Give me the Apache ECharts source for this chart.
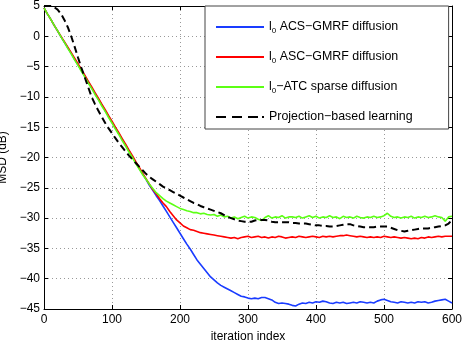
<!DOCTYPE html>
<html>
<head>
<meta charset="utf-8">
<script src="https://cdn.jsdelivr.net/npm/echarts@6/dist/echarts.min.js"></script>
<style>
    html, body { margin: 0; padding: 0; background: #fff; }
    #chart { width: 463px; height: 342px; }
</style>
</head>
<body>
<div id="chart"></div>
<script>
//--------------------------------
// Data (every 5 iterations)
//--------------------------------
const iters = [];
for (let i = 0; i <= 600; i += 5) iters.push(i);

const xTicks = [0, 100, 200, 300, 400, 500, 600];
const yTicks = [-45, -40, -35, -30, -25, -20, -15, -10, -5, 0, 5];

const seriesNames = [
    'l0 ACS−GMRF diffusion',
    'l0 ASC−GMRF diffusion',
    'l0−ATC sparse diffusion',
    'Projection−based learning'
];

const acs = [
    4.7, 3.7, 2.8, 1.8, 0.9, -0.1, -1.0, -1.9, -2.8, -3.8,
    -4.7, -5.6, -6.6, -7.5, -8.5, -9.4, -10.4, -11.3, -12.3, -13.2,
    -14.2, -15.1, -16.1, -17.0, -18.0, -18.9, -19.9, -20.8, -21.8, -22.7,
    -23.6, -24.6, -25.4, -26.3, -27.1, -28.0, -28.9, -29.8, -30.7, -31.6,
    -32.5, -33.4, -34.3, -35.1, -36.0, -36.9, -37.6, -38.3, -39.0, -39.7,
    -40.2, -40.7, -41.1, -41.4, -41.7, -42.0, -42.3, -42.6, -42.9, -43.0,
    -43.2, -43.3, -43.2, -43.3, -43.1, -43.1, -43.3, -43.5, -43.9, -44.1,
    -44.0, -44.1, -44.2, -44.4, -44.5, -44.2, -44.0, -44.1, -43.9, -44.0,
    -43.8, -43.9, -43.7, -43.8, -44.0, -44.1, -43.9, -44.0, -43.9, -44.1,
    -44.0, -43.9, -44.0, -43.8, -43.9, -44.0, -43.9, -44.0, -43.7, -43.5,
    -43.4, -43.6, -43.8, -43.9, -44.0, -43.8, -43.9, -44.0, -43.9, -44.0,
    -43.8, -43.9, -43.8, -44.0, -43.9, -43.7, -43.6, -43.5, -43.4, -43.7,
    -44.0
];

const asc = [
    4.7, 3.7, 2.8, 1.8, 0.9, 0.0, -0.9, -1.8, -2.7, -3.6,
    -4.5, -5.5, -6.4, -7.4, -8.3, -9.3, -10.2, -11.2, -12.1, -13.1,
    -14.0, -15.0, -15.9, -16.9, -17.8, -18.8, -19.7, -20.7, -21.6, -22.6,
    -23.5, -24.4, -25.3, -26.0, -26.8, -27.5, -28.1, -28.9, -29.6, -30.3,
    -30.8, -31.3, -31.6, -31.9, -32.0, -32.2, -32.4, -32.5, -32.6, -32.7,
    -32.8, -32.9, -33.0, -33.1, -33.2, -33.3, -33.2, -33.4, -33.2, -33.1,
    -33.0, -33.2, -33.1, -33.0, -33.2, -33.1, -33.3, -33.1, -33.2, -33.0,
    -33.1, -33.3, -33.2, -33.1, -33.2, -33.0, -33.1, -33.2, -33.1, -33.0,
    -33.1, -33.2, -33.0, -33.1, -33.0, -33.1, -33.0, -32.9, -32.9, -32.8,
    -32.9, -33.0, -33.1, -33.0, -33.1, -33.2, -33.1, -33.2, -33.1, -33.2,
    -33.0, -33.1, -33.2, -33.1, -33.2, -33.3, -33.2, -33.3, -33.4, -33.3,
    -33.4, -33.2, -33.3, -33.1, -33.2, -33.1, -33.0, -33.1, -33.0, -33.0,
    -33.0
];

const atc = [
    4.7, 3.7, 2.8, 1.8, 0.9, -0.1, -1.0, -2.0, -2.9, -3.9,
    -4.8, -5.8, -6.7, -7.7, -8.6, -9.6, -10.5, -11.5, -12.4, -13.4,
    -14.3, -15.3, -16.2, -17.2, -18.1, -19.1, -20.0, -21.0, -21.9, -22.8,
    -23.6, -24.4, -25.1, -25.8, -26.3, -26.8, -27.2, -27.5, -27.8, -28.1,
    -28.4, -28.6, -28.8, -28.9, -29.1, -29.1, -29.3, -29.2, -29.4, -29.5,
    -29.4, -29.7, -29.5, -29.8, -29.7, -30.0, -29.8, -30.1, -29.9, -29.7,
    -30.0, -29.8, -29.9, -30.2, -30.4, -29.9, -29.6, -30.0, -29.8, -29.9,
    -29.6, -30.0, -29.8, -29.8, -29.9, -29.7, -30.0, -29.8, -29.6, -29.9,
    -29.7, -30.0, -29.8, -29.9, -29.6, -29.9, -29.8, -30.1, -29.7, -29.9,
    -29.8, -30.0, -29.7, -29.9, -30.0, -29.8, -29.9, -29.7, -29.9, -29.8,
    -29.6, -29.2, -29.7, -29.9, -29.8, -30.0, -29.8, -29.9, -29.7, -30.0,
    -29.8, -29.9, -29.7, -29.9, -29.8, -29.6, -29.8, -29.9, -30.5, -29.8,
    -29.7
];

const proj = [
    5.0, 5.0, 5.0, 4.8, 4.4, 3.7, 2.7, 1.5, 0.0, -1.7,
    -3.5, -5.2, -6.8, -8.4, -10.0, -11.2, -12.3, -13.3, -14.3, -15.2,
    -16.0, -16.8, -17.6, -18.3, -19.0, -19.7, -20.3, -20.9, -21.5, -22.1,
    -22.7, -23.2, -23.6, -24.0, -24.4, -24.8, -25.1, -25.4, -25.7, -26.0,
    -26.3, -26.6, -26.9, -27.2, -27.5, -27.7, -28.0, -28.2, -28.4, -28.6,
    -28.8, -29.0, -29.2, -29.5, -29.8, -30.0, -30.2, -30.4, -30.5, -30.6,
    -30.6, -30.6, -30.4, -30.3, -30.3, -30.3, -30.4, -30.6, -30.7, -30.7,
    -30.7, -30.7, -30.7, -30.8, -30.8, -30.9, -30.9, -30.9, -31.0, -31.1,
    -31.2, -31.2, -31.3, -31.3, -31.4, -31.4, -31.3, -31.2, -31.1, -31.0,
    -31.0, -31.2, -31.3, -31.4, -31.5, -31.5, -31.5, -31.5, -31.4, -31.4,
    -31.4, -31.4, -31.6, -31.8, -32.0, -32.1, -32.2, -32.1, -32.0, -31.9,
    -31.8, -31.7, -31.7, -31.7, -31.6, -31.5, -31.4, -31.3, -31.2, -30.9,
    -30.3
];

const seriesValues = [acs, asc, atc, proj];
const seriesColors = ['#1a3cff', '#ff0000', '#5cff14', '#000000'];

//--------------------------------
// Helpers
//--------------------------------
const FONT = '"Liberation Sans", Arial, sans-serif';
const minus = (v) => String(v).replace('-', '−');

const toPairs = (vals) => vals.map((v, i) => [iters[i], v]);

// legend samples: solid bar, or dashes like the matlab legend
const SOLID_ICON = 'path://M0 0H48V2H0Z';
const DASH_ICON = 'path://M0 0H10V2H0Z M16 0H26V2H16Z M32 0H42V2H32Z M46 0H48V2H46Z';

const legendText = (name) => {
    if (name.indexOf('l0') === 0) {
        return '{t|l}{s|0}{t|' + name.slice(2) + '}';
    }
    return '{t|' + name + '}';
};

const frameAxis = (extra) => Object.assign({
    type: 'value',
    axisLine: { show: true, onZero: false, lineStyle: { color: '#000', width: 1 } },
    axisTick: { show: true, inside: true, length: 4, lineStyle: { color: '#000' } },
    axisLabel: { show: false },
    splitLine: { show: false }
}, extra);

//--------------------------------
// Chart
//--------------------------------
const myChart = echarts.init(document.getElementById('chart'), null, { renderer: 'canvas' });

const options = {
    backgroundColor: '#fff',
    animation: false,
    textStyle: { fontFamily: FONT },
    grid: { left: 44, right: 11, top: 6, bottom: 33, containLabel: false, outerBoundsMode: 'none' },
    legend: {
        data: seriesNames.map((name, k) => ({
            name: name,
            icon: k === 3 ? DASH_ICON : SOLID_ICON
        })),
        orient: 'vertical',
        left: 205,
        top: 6,
        padding: [15, 36, 6, 11],
        itemGap: 16,
        itemWidth: 48,
        itemHeight: 2,
        symbolKeepAspect: false,
        backgroundColor: '#fff',
        borderColor: '#444',
        borderWidth: 1,
        borderRadius: 0,
        formatter: legendText,
        textStyle: {
            fontFamily: FONT,
            color: '#000',
            rich: {
                t: { fontSize: 12.4, lineHeight: 16, fontFamily: FONT, color: '#000' },
                s: { fontSize: 8, lineHeight: 8, verticalAlign: 'bottom', fontFamily: FONT, color: '#000' }
            }
        }
    },
    xAxis: [
        frameAxis({
            position: 'bottom',
            min: xTicks[0],
            max: xTicks[xTicks.length - 1],
            interval: 100,
            name: 'iteration index',
            nameLocation: 'middle',
            nameGap: 21,
            nameTextStyle: { fontFamily: FONT, fontSize: 12, color: '#000' },
            axisLabel: { show: true, margin: 5, fontFamily: FONT, fontSize: 12, color: '#000', formatter: minus },
            splitLine: { show: true, lineStyle: { color: '#999', type: [1, 3], width: 1 } }
        }),
        frameAxis({
            position: 'top',
            min: xTicks[0],
            max: xTicks[xTicks.length - 1],
            interval: 100
        })
    ],
    yAxis: [
        frameAxis({
            position: 'left',
            min: yTicks[0],
            max: yTicks[yTicks.length - 1],
            interval: 5,
            name: 'MSD (dB)',
            nameLocation: 'middle',
            nameGap: 31,
            nameTextStyle: { fontFamily: FONT, fontSize: 12, color: '#000' },
            axisLabel: { show: true, margin: 4, fontFamily: FONT, fontSize: 12, color: '#000', formatter: minus },
            splitLine: { show: true, lineStyle: { color: '#999', type: [1, 3], width: 1 } }
        }),
        frameAxis({
            position: 'right',
            min: yTicks[0],
            max: yTicks[yTicks.length - 1],
            interval: 5
        })
    ],
    series: seriesNames.map((name, k) => ({
        name: name,
        type: 'line',
        data: toPairs(seriesValues[k]),
        showSymbol: false,
        symbol: 'none',
        smooth: false,
        z: 2 + k,
        lineStyle: {
            color: seriesColors[k],
            width: k === 3 ? 2 : 1.6,
            type: k === 3 ? [7, 4] : 'solid'
        },
        itemStyle: { color: seriesColors[k] }
    }))
};

myChart.setOption(options);
</script>
</body>
</html>
